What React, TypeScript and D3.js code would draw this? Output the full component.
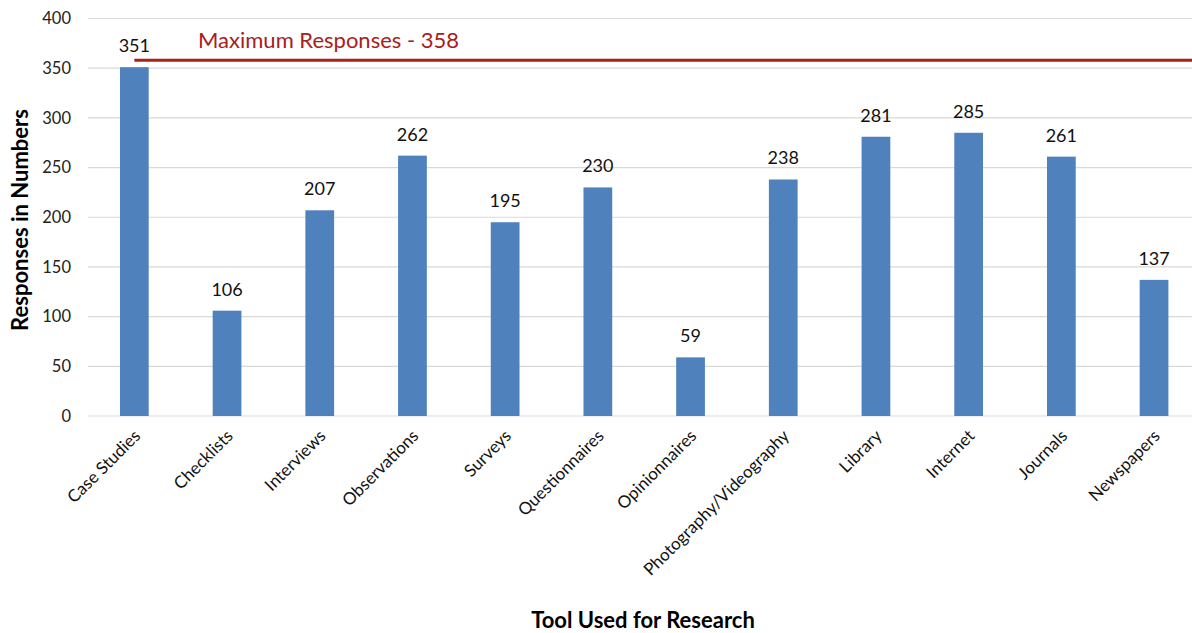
import React from 'react';
import * as d3 from 'd3';

const categories = ['Case Studies', 'Checklists', 'Interviews', 'Observations', 'Surveys', 'Questionnaires', 'Opinionnaires', 'Photography/Videography', 'Library', 'Internet', 'Journals', 'Newspapers'];
const responses = [351, 106, 207, 262, 195, 230, 59, 238, 281, 285, 261, 137];
const yTicks = [0, 50, 100, 150, 200, 250, 300, 350, 400];
const maxResponses = 358;

const W = 1192;
const H = 633;
const FONT = 'Lato, "Open Sans", sans-serif';

const App = () => {
  const margin = { top: 18.5, left: 88, bottom: 217 };
  const band = 92.7;
  const x = d3.scaleBand<string>()
    .domain(categories)
    .range([margin.left, margin.left + band * categories.length])
    .paddingInner(0.69)
    .paddingOuter(0.345);
  const y = d3.scaleLinear().domain([0, 400]).range([H - margin.bottom, margin.top]);

  return (
    <svg width={W} height={H} style={{ position: 'absolute', left: 0, top: 0, background: '#fff' }}>
      {yTicks.map(t => (
        <g key={t}>
          <line x1={margin.left} x2={W} y1={y(t)} y2={y(t)} stroke="#d9d9d9" strokeWidth={1.2} />
          <text x={71} y={y(t)} dy="0.35em" textAnchor="end" fontFamily={FONT} fontSize={16.5} fill="#222">{t}</text>
        </g>
      ))}
      {categories.map((c, i) => {
        const cx = x(c)! + x.bandwidth() / 2;
        return (
          <g key={c}>
            <rect x={x(c)} y={y(responses[i])} width={x.bandwidth()} height={y(0) - y(responses[i])} fill="#4F81BD" />
            <text x={cx} y={y(responses[i]) - 15} textAnchor="middle" fontFamily={FONT} fontSize={18} fill="#111">{responses[i]}</text>
            <text transform={`translate(${cx + 7},${y(0) + 21}) rotate(-45)`} textAnchor="end" fontFamily={FONT} fontSize={17} fill="#111">{c}</text>
          </g>
        );
      })}
      <line x1={x(categories[0])! + x.bandwidth() / 2} x2={W} y1={y(maxResponses)} y2={y(maxResponses)} stroke="#A8201A" strokeWidth={3} />
      <text x={198} y={48} fontFamily={FONT} fontSize={22} fill="#A8201A">Maximum Responses - {maxResponses}</text>
      <text transform="translate(28,220) rotate(-90)" textAnchor="middle" fontFamily={FONT} fontSize={22} fontWeight="bold" fill="#000">Responses in Numbers</text>
      <text x={643} y={628} textAnchor="middle" fontFamily={FONT} fontSize={22} fontWeight="bold" fill="#000">Tool Used for Research</text>
    </svg>
  );
};

export default App;
